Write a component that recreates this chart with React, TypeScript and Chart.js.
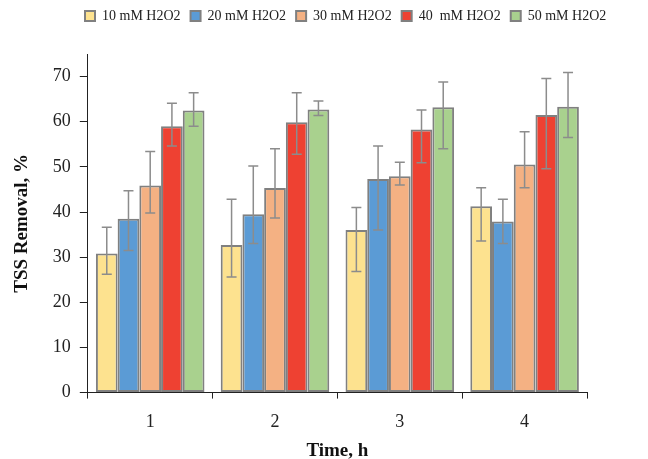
import React, { useEffect, useRef } from "react";
import { Chart, registerables } from "chart.js";

Chart.register(...registerables);

const categories = ["1", "2", "3", "4"];
const seriesLabels = ["10 mM H2O2", "20 mM H2O2", "30 mM H2O2", "40  mM H2O2", "50 mM H2O2"];

const s10 = [30.8, 32.7, 36.0, 41.3];
const s20 = [38.5, 39.5, 47.3, 37.9];
const s30 = [45.9, 45.3, 47.9, 50.5];
const s40 = [59.0, 59.9, 58.3, 61.5];
const s50 = [62.5, 62.7, 63.2, 63.3];

// error bar upper and lower ends
const hi10 = [36.6, 42.8, 41.0, 45.4];
const lo10 = [26.2, 25.6, 26.8, 33.6];
const hi20 = [44.7, 50.2, 54.6, 42.8];
const lo20 = [31.5, 33.0, 36.0, 33.0];
const hi30 = [53.4, 54.0, 51.0, 57.8];
const lo30 = [39.8, 38.7, 46.0, 45.4];
const hi40 = [64.1, 66.4, 62.6, 69.6];
const lo40 = [54.6, 52.8, 50.9, 49.6];
const hi50 = [66.4, 64.6, 68.8, 70.9];
const lo50 = [59.0, 61.4, 54.0, 56.5];

const yTicks = [0, 10, 20, 30, 40, 50, 60, 70];

const colors = ["#FDE28F", "#5B9BD5", "#F4B183", "#EE4132", "#A9D18E"];
const allValues = [s10, s20, s30, s40, s50];
const allHi = [hi10, hi20, hi30, hi40, hi50];
const allLo = [lo10, lo20, lo30, lo40, lo50];

const FONT = "'Liberation Serif', 'Times New Roman', serif";

const errorBarPlugin = {
  id: "errorBars",
  afterDatasetsDraw(chart: any) {
    const ctx = chart.ctx;
    const yScale = chart.scales.y;
    ctx.save();
    ctx.strokeStyle = "#8C8C8C";
    ctx.lineWidth = 1.5;
    chart.data.datasets.forEach((_ds: any, i: number) => {
      const meta = chart.getDatasetMeta(i);
      meta.data.forEach((el: any, j: number) => {
        const x = el.x;
        const yh = yScale.getPixelForValue(allHi[i][j]);
        const yl = yScale.getPixelForValue(allLo[i][j]);
        const cap = 5;
        ctx.beginPath();
        ctx.moveTo(x, yh);
        ctx.lineTo(x, yl);
        ctx.moveTo(x - cap, yh);
        ctx.lineTo(x + cap, yh);
        ctx.moveTo(x - cap, yl);
        ctx.lineTo(x + cap, yl);
        ctx.stroke();
      });
    });
    ctx.restore();
  },
};

const legendShiftPlugin = {
  id: "legendShift",
  afterLayout(chart: any) {
    const lg = chart.legend;
    if (!lg) return;
    const w = lg.width;
    const h = lg.height;
    lg.left = 75;
    lg.right = lg.left + w;
    lg.top = lg.top - 21;
    lg.bottom = lg.top + h;
  },
};

export default function App() {
  const ref = useRef<HTMLCanvasElement>(null);
  useEffect(() => {
    if (!ref.current) return;
    const chart = new Chart(ref.current, {
      type: "bar",
      data: {
        labels: categories,
        datasets: allValues.map((vals, i) => ({
          label: seriesLabels[i],
          data: vals,
          backgroundColor: colors[i],
          borderColor: "#808080",
          borderWidth: 2,
          borderSkipped: false,
          categoryPercentage: 0.87,
          barPercentage: 1.0,
        })),
      },
      options: {
        responsive: false,
        animation: false,
        layout: { padding: { left: 11, right: 61, top: 20, bottom: 0 } },
        plugins: {
          legend: {
            position: "top",
            align: "start",
            labels: {
              boxWidth: 10,
              boxHeight: 10,
              padding: 10,
              color: "#222",
              font: { family: FONT, size: 14 },
            },
          },
          tooltip: { enabled: false },
        },
        scales: {
          x: {
            grid: {
              drawOnChartArea: false,
              offset: true,
              tickLength: 6,
              color: "#222",
            },
            border: { color: "#222", width: 1 },
            ticks: {
              color: "#222",
              padding: 13,
              font: { family: FONT, size: 18 },
            },
            title: {
              display: true,
              text: "Time, h",
              color: "#111",
              font: { family: FONT, size: 19, weight: "bold" },
              padding: { top: -7, bottom: -3 },
            },
          },
          y: {
            min: 0,
            max: 75,
            afterBuildTicks: (scale: any) => {
              scale.ticks = yTicks.map((v) => ({ value: v }));
            },
            grid: {
              drawOnChartArea: false,
              tickLength: 8,
              color: "#222",
            },
            border: { color: "#222", width: 1 },
            ticks: {
              color: "#222",
              padding: 9,
              font: { family: FONT, size: 18 },
            },
            title: {
              display: true,
              text: "TSS Removal, %",
              color: "#111",
              font: { family: FONT, size: 19, weight: "bold" },
              padding: { top: 0, bottom: 10 },
            },
          },
        },
      },
      plugins: [errorBarPlugin, legendShiftPlugin],
    });
    return () => chart.destroy();
  }, []);
  return (
    <div style={{ position: "absolute", left: 0, top: 0, width: 648, height: 459, background: "#fff" }}>
      <canvas ref={ref} width={648} height={459} />
    </div>
  );
}
